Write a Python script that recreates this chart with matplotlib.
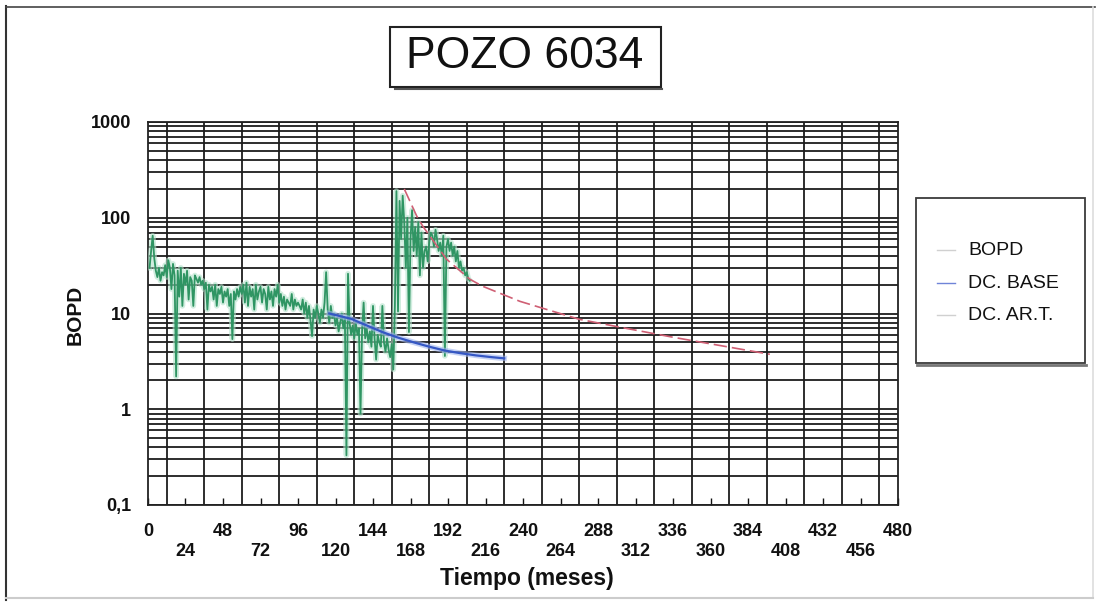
import matplotlib
matplotlib.use("Agg")
import matplotlib.pyplot as plt
from matplotlib.patches import Rectangle
from matplotlib.lines import Line2D
from matplotlib.ticker import FixedLocator, LogLocator, NullFormatter

plt.rcParams['font.family'] = ['Liberation Sans', 'DejaVu Sans']

# Monthly oil rate (BOPD), months 1..206
bopd = [
    30, 45, 65, 38, 28, 24, 30, 22, 27, 25, 32, 24,
    36, 30, 18, 33, 25, 2.2, 28, 15, 30, 12, 26, 20,
    28, 14, 24, 22, 12, 25, 23, 21, 24, 20, 22, 18,
    21, 11, 20, 17, 19, 14, 20, 12, 18, 16, 19, 13,
    17, 15, 18, 12, 16, 5.4, 17, 14, 18, 15, 19, 16,
    20, 13, 21, 12, 19, 15, 18, 11, 20, 14, 17, 19,
    13, 18, 16, 11, 19, 14, 17, 12, 18, 15, 20, 13,
    16, 12, 15, 11, 14, 13, 12, 16, 11, 14, 12, 13,
    12, 11, 14, 10, 13, 9, 12, 8.5, 5.8, 11, 9, 12,
    10, 8, 11, 9, 13, 27, 11, 8, 12, 9, 10, 7.5,
    9, 6.5, 8, 10, 7, 9, 0.33, 26, 8, 6, 7.5, 5.5,
    8, 6, 7, 0.9, 6.5, 13, 5.5, 7, 5, 6.5, 4.5, 12,
    5.5, 3.3, 6, 5, 4.5, 12, 5, 4, 5.5, 4.2, 3.5, 4.8,
    2.6, 12, 190, 10.5, 150, 60, 170, 90, 30, 100, 6.4, 60,
    120, 45, 80, 40, 90, 25, 70, 30, 45, 50, 35, 55,
    70, 65, 50, 75, 60, 45, 55, 40, 65, 3.6, 50, 60,
    45, 55, 40, 50, 35, 45, 30, 35, 28, 30, 25, 27,
    23, 22,
]
bopd_months = list(range(1, len(bopd) + 1))

# Base decline curve
base_months = [116, 130, 140, 150, 160, 170, 180, 190, 200, 210, 220, 228]
base_rate = [10, 8.8, 7.5, 6.4, 5.6, 5.0, 4.5, 4.1, 3.85, 3.65, 3.5, 3.4]

# Decline curve after artificial lift
art_months = [164, 172, 176, 191, 206, 214, 238, 276, 302, 336, 398]
art_rate = [200, 104, 81, 37, 22.8, 19.3, 13.4, 8.7, 7.2, 5.65, 3.75]

x_ticks = list(range(0, 481, 24))
x_grid = list(range(12, 480, 24))
y_ticks = [0.1, 1, 10, 100, 1000]
y_labels = ["0,1", "1", "10", "100", "1000"]
legend_labels = ["BOPD", "DC. BASE", "DC. AR.T."]

W, H = 1101, 607
fig = plt.figure(figsize=(W / 100, H / 100), dpi=100)


def fx(x):
    return x / W


def fy(y):
    return 1 - y / H


ax = fig.add_axes([fx(148), fy(505), fx(898) - fx(148), fy(122) - fy(505)])
ax.set_yscale('log')
ax.set_xlim(0, 480)
ax.set_ylim(0.1, 1000)

grid_col = '#1c1c1c'
ax.yaxis.set_major_locator(FixedLocator(y_ticks))
ax.yaxis.set_minor_locator(LogLocator(base=10, subs=range(2, 10)))
ax.yaxis.set_minor_formatter(NullFormatter())
ax.set_yticklabels(y_labels)
ax.xaxis.set_major_locator(FixedLocator(x_ticks))
ax.xaxis.set_minor_locator(FixedLocator(x_grid))
ax.set_xticklabels([("\n" if i % 2 else "") + str(t) for i, t in enumerate(x_ticks)])

ax.yaxis.grid(True, which='both', color=grid_col, lw=1.3)
ax.xaxis.grid(True, which='minor', color=grid_col, lw=1.3)
ax.xaxis.grid(False, which='major')

ax.tick_params(axis='x', which='major', direction='in', length=5, width=1,
               pad=13, labelsize=13, colors='#111')
ax.tick_params(axis='x', which='minor', length=0)
ax.tick_params(axis='y', which='both', length=0, pad=12, labelsize=13, colors='#111')
for lab in ax.get_xticklabels() + ax.get_yticklabels():
    lab.set_fontweight('bold')
    lab.set_linespacing(1.25)
for s in ax.spines.values():
    s.set_color('#222')
    s.set_linewidth(1.3)

# Production and decline curves
ax.plot(bopd_months, bopd, color='#b3e2cb', lw=4, alpha=0.6, zorder=3)
ax.plot(bopd_months, bopd, color='#2f9563', lw=1.3, zorder=4)
ax.plot(base_months, base_rate, color='#9fb4ee', lw=4, alpha=0.6, zorder=5)
ax.plot(base_months, base_rate, color='#3557c4', lw=1.6, zorder=6)
ax.plot(art_months, art_rate, color='#cf5f74', lw=1.2, dashes=(8, 3), zorder=6)

# Axis titles
fig.text(fx(75), fy(315), "BOPD", rotation=90, ha='center', va='center',
         fontsize=15, fontweight='bold', color='#111')
fig.text(fx(527), fy(578), "Tiempo (meses)", ha='center', va='center',
         fontsize=16.5, fontweight='bold', color='#111')

# Title box
fig.patches.append(Rectangle((fx(390), fy(87)), fx(661) - fx(390), fy(27) - fy(87),
                             transform=fig.transFigure, fill=False,
                             edgecolor='#222', lw=1.5))
fig.add_artist(Line2D([fx(395), fx(662)], [fy(89), fy(89)], transform=fig.transFigure,
                      color='#555', lw=1.5))
fig.text(fx(525), fy(57), "POZO 6034", ha='center', va='center',
         fontsize=32, color='#111')

# Legend box
fig.patches.append(Rectangle((fx(916), fy(363)), fx(1085) - fx(916), fy(198) - fy(363),
                             transform=fig.transFigure, facecolor='white',
                             edgecolor='#3a3a3a', lw=1.3))
fig.add_artist(Line2D([fx(917), fx(1086)], [fy(365), fy(365)], transform=fig.transFigure,
                      color='#777', lw=2))
legend_y = [250, 283, 315]
legend_cols = ['#d0d0d0', '#6f84d8', '#d0d0d0']
for lab, yy, c in zip(legend_labels, legend_y, legend_cols):
    fig.add_artist(Line2D([fx(937), fx(955)], [fy(yy), fy(yy)], transform=fig.transFigure,
                          color=c, lw=1))
    fig.text(fx(968), fy(yy), lab, ha='left', va='center', fontsize=14, color='#111')

# Outer frame
fig.add_artist(Line2D([fx(6), fx(6)], [fy(6), fy(600)], transform=fig.transFigure,
                      color='#333', lw=1.5))
fig.add_artist(Line2D([fx(6), fx(1095)], [fy(7), fy(7)], transform=fig.transFigure,
                      color='#444', lw=1.2))
fig.add_artist(Line2D([fx(1093), fx(1093)], [fy(7), fy(598)], transform=fig.transFigure,
                      color='#dddddd', lw=1.2))
fig.add_artist(Line2D([fx(6), fx(1093)], [fy(598), fy(598)], transform=fig.transFigure,
                      color='#cccccc', lw=1.5))

fig.savefig("out.png", dpi=100)
